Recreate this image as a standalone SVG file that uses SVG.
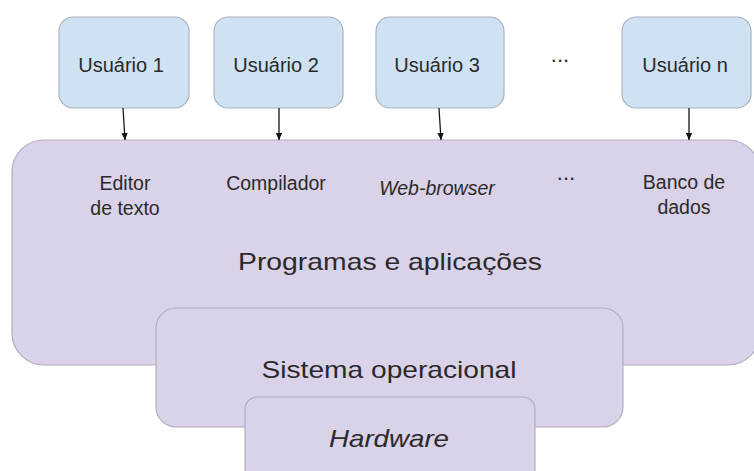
<svg xmlns="http://www.w3.org/2000/svg" width="754" height="471" viewBox="0 0 754 471">
<style>
.user{fill:#cfe2f3;stroke:#a9b3bd;stroke-width:1.2}
.layer{fill:#d9d2e9;stroke:#b3adbf;stroke-width:1.2}
.t{font-family:"Liberation Sans",Arial,sans-serif;fill:#2a2a2a;text-anchor:middle}
.u{font-size:20px}
.a{font-size:19.5px}
.d{font-size:22px}
.big{font-size:24px}
.i{font-style:italic}
.conn{stroke:#111;stroke-width:1.3;fill:none}
</style>
<defs>
<marker id="arr" markerWidth="8" markerHeight="8" refX="7" refY="4" orient="auto" markerUnits="userSpaceOnUse">
<path d="M0,0.8 L7,4 L0,7.2 Z" fill="#111"/>
</marker>
</defs>
<rect width="754" height="471" fill="#fff"/>
<g id="programas">
<rect class="layer" x="12" y="140" width="748" height="225" rx="32"/>
<text class="t a" x="125" y="190">Editor</text>
<text class="t a" x="125" y="215">de texto</text>
<text class="t a" x="276" y="190">Compilador</text>
<text class="t a i" x="437" y="195">Web-browser</text>
<text class="t d" x="566" y="180">...</text>
<text class="t a" x="684" y="189">Banco de</text>
<text class="t a" x="684" y="214">dados</text>
<text class="t big" x="390" y="270" textLength="304" lengthAdjust="spacingAndGlyphs">Programas e aplicações</text>
</g>
<g id="sistema">
<rect class="layer" x="156" y="308" width="467" height="119" rx="20"/>
<text class="t big" x="389" y="378" textLength="255" lengthAdjust="spacingAndGlyphs">Sistema operacional</text>
</g>
<g id="hardware">
<rect class="layer" x="245" y="397" width="290" height="85" rx="12"/>
<text class="t big i" x="389" y="447" textLength="120" lengthAdjust="spacingAndGlyphs">Hardware</text>
</g>
<g id="usuario1">
<rect class="user" x="59" y="17" width="130" height="91" rx="14"/>
<text class="t u" x="121" y="72">Usuário 1</text>
</g>
<g id="usuario2">
<rect class="user" x="214" y="17" width="129" height="91" rx="14"/>
<text class="t u" x="276" y="72">Usuário 2</text>
</g>
<g id="usuario3">
<rect class="user" x="376" y="17" width="128" height="91" rx="14"/>
<text class="t u" x="437" y="72">Usuário 3</text>
</g>
<g id="dots">
<text class="t d" x="560" y="62">...</text>
</g>
<g id="usuarion">
<rect class="user" x="622" y="17" width="129" height="91" rx="14"/>
<text class="t u" x="685" y="72">Usuário n</text>
</g>
<g id="connectors">
<line class="conn" x1="123" y1="108" x2="125" y2="140" marker-end="url(#arr)"/>
<line class="conn" x1="279" y1="108" x2="279" y2="140" marker-end="url(#arr)"/>
<line class="conn" x1="439" y1="108" x2="441" y2="140" marker-end="url(#arr)"/>
<line class="conn" x1="689" y1="108" x2="689" y2="140" marker-end="url(#arr)"/>
</g>
</svg>
